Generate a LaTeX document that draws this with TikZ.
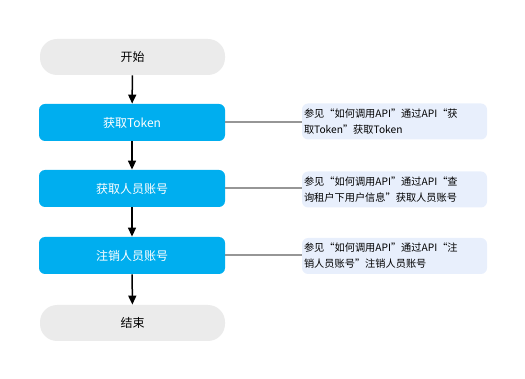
\documentclass[tikz,border=0pt]{standalone}
\usepackage{fontspec}
\setmainfont{Noto Sans CJK SC}
\usetikzlibrary{arrows.meta}
\definecolor{stepblue}{RGB}{0,174,239}
\definecolor{termgray}{RGB}{235,235,235}
\definecolor{notefill}{RGB}{232,239,252}
\definecolor{linkgray}{RGB}{150,150,150}
\begin{document}
\begin{tikzpicture}[x=1pt, y=-1pt, line width=0.8pt, font=\fontsize{12}{14}\selectfont,
  term/.style={fill=termgray, rounded corners=17pt, minimum width=185pt, minimum height=36pt, inner sep=0pt},
  stepbox/.style={fill=stepblue, text=white, rounded corners=6pt, minimum width=186pt, minimum height=37pt, inner sep=0pt},
  notebox/.style={fill=notefill, rounded corners=6pt, minimum width=185pt, minimum height=36pt, text width=181pt, align=left, inner sep=2pt, font=\fontsize{10.2}{16}\selectfont},
  flow/.style={-{Triangle[length=9pt, width=8pt]}, black, line width=1.5pt},
  link/.style={draw=linkgray, line width=2pt}]
\useasboundingbox (0,0) rectangle (525,379);
% main column
\node[term] (start) at (132.5,57) {开始};
\node[stepbox] (token) at (132,122.5) {获取Token};
\node[stepbox] (query) at (132,188.5) {获取人员账号};
\node[stepbox] (cancel) at (132,255.5) {注销人员账号};
\node[term] (stop) at (132.5,323) {结束};
\draw[flow] (start) -- (token);
\draw[flow] (token) -- (query);
\draw[flow] (query) -- (cancel);
\draw[flow] (cancel) -- (stop);
% notes on the right
\node[notebox] (ntoken) at (394.5,121.5) {参见“如何调用API”通过API“获\\取Token”获取Token};
\node[notebox] (nquery) at (394.5,189.5) {参见“如何调用API”通过API“查\\询租户下用户信息”获取人员账号};
\node[notebox] (ncancel) at (394.5,256) {参见“如何调用API”通过API“注\\销人员账号”注销人员账号};
\draw[link] (token.east) -- (ntoken.west |- token.east);
\draw[link] (query.east) -- (nquery.west |- query.east);
\draw[link] (cancel.east) -- (ncancel.west |- cancel.east);
\end{tikzpicture}
\end{document}
